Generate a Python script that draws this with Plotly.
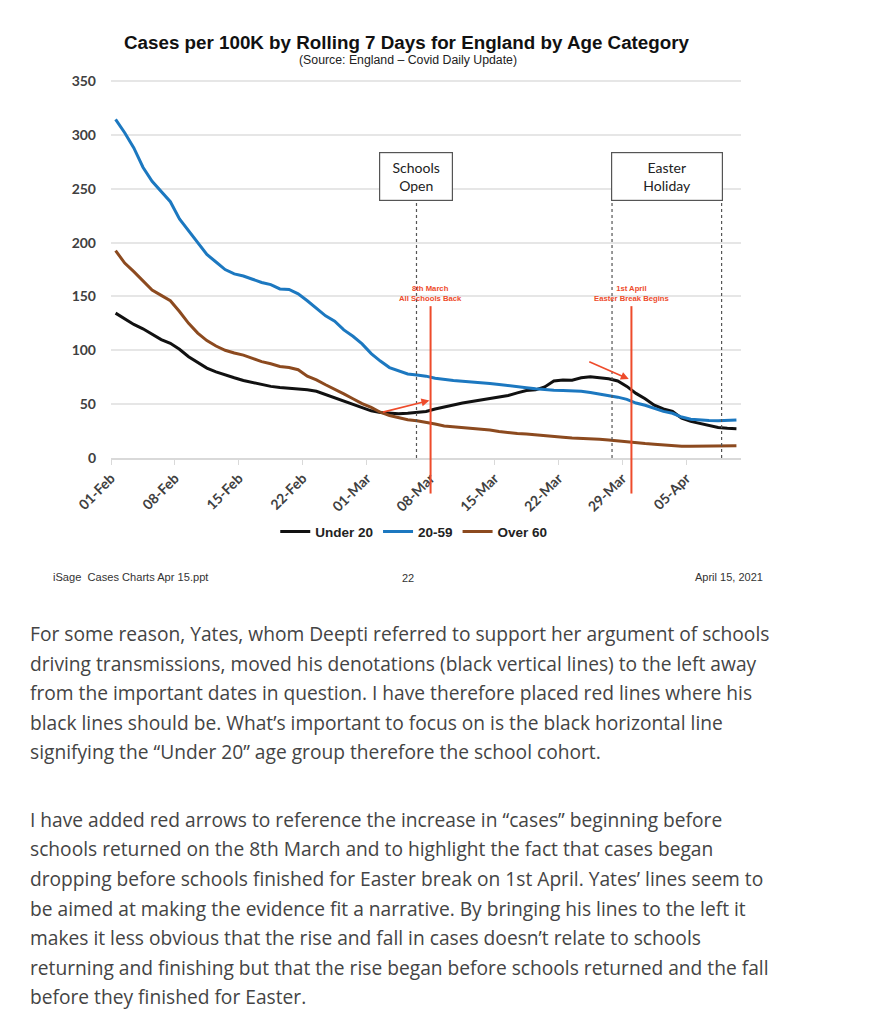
import pandas as pd
import plotly.graph_objects as go

# ---------------- data ----------------
dates = pd.date_range("2021-02-01 12:00", periods=69, freq="D")

under_20 = [134.5, 129, 124, 120, 115, 110, 106.5, 101, 94, 89,
            83.5, 80, 77, 74.5, 72, 70, 68, 66.5, 65.5, 65,
            64.5, 63.3, 62, 59, 56, 53, 50, 47, 43.8, 42.3,
            41.5, 41.1, 41.5, 42.3, 43.2, 45.5, 47.5, 49.7, 51, 52.5,
            53.8, 55, 56.6, 58, 60.5, 62.7, 63.3, 66, 71.5, 72.5,
            72.3, 74.5, 75.5, 74.5, 73.5, 71.5, 66.5, 60, 55, 49,
            45.5, 43.2, 37, 34, 32, 30, 28.3, 27.6, 27.2]

age_20_59 = [314.5, 302, 288, 270, 257, 247, 238, 222, 211, 199,
             189, 182, 175, 171, 169, 166, 163, 161, 157, 156.5,
             152.5, 146, 139, 132, 127, 119, 113, 106, 97, 90,
             84, 81, 78, 77, 76, 74, 72.8, 72, 71.3, 70.8,
             70, 69.2, 68.3, 67.5, 66.5, 65.3, 64.3, 63.5, 63, 62.7,
             62.5, 62, 60.8, 59.5, 58.3, 56.5, 54.5, 51, 49, 46,
             43.3, 41.5, 38, 36, 35.2, 34.8, 34.6, 35, 35.3]

over_60 = [192.6, 181, 173, 164, 156, 151, 146, 136, 125, 116,
           109, 104, 100, 97.5, 95.5, 92.5, 89.5, 87.5, 85, 84,
           82, 76, 72.5, 68, 64, 59.5, 55, 50.5, 47, 42.5,
           39.5, 37.5, 35.5, 34.5, 33.3, 31.5, 29.8, 29, 28.3, 27.7,
           27, 26, 24.7, 23.6, 22.7, 22.2, 21.3, 21, 20.2, 19.2,
           18.5, 18.3, 18, 17.5, 16.7, 15.7, 14.8, 14, 13.4, 12.8,
           12, 11.5, 11, 10.8, 10.8, 10.8, 10.9, 11, 11.4]

series_names = ["Under 20", "20-59", "Over 60"]

tick_dates = pd.date_range("2021-02-01", periods=10, freq="7D")
tick_labels = ["01-Feb", "08-Feb", "15-Feb", "22-Feb", "01-Mar",
               "08-Mar", "15-Mar", "22-Mar", "29-Mar", "05-Apr"]

# event markers (dates)
schools_open_line = "2021-03-06 11:00"
easter_lines = ["2021-03-27 21:00", "2021-04-08 21:00"]
red_lines = ["2021-03-08 00:00", "2021-03-30 00:00"]
red_labels = ["8th March<br>All Schools Back", "1st April<br>Easter Break Begins"]
arrow_heads = [("2021-03-07 21:00", 53.4), ("2021-03-29 17:00", 73.3)]

body_para1 = [
    "For some reason, Yates, whom Deepti referred to support her argument of schools",
    "driving transmissions, moved his denotations (black vertical lines) to the left away",
    "from the important dates in question. I have therefore placed red lines where his",
    "black lines should be. What\u2019s important to focus on is the black horizontal line",
    "signifying the \u201cUnder 20\u201d age group therefore the school cohort.",
]
body_para2 = [
    "I have added red arrows to reference the increase in \u201ccases\u201d beginning before",
    "schools returned on the 8th March and to highlight the fact that cases began",
    "dropping before schools finished for Easter break on 1st April. Yates\u2019 lines seem to",
    "be aimed at making the evidence fit a narrative. By bringing his lines to the left it",
    "makes it less obvious that the rise and fall in cases doesn\u2019t relate to schools",
    "returning and finishing but that the rise began before schools returned and the fall",
    "before they finished for Easter.",
]

# ---------------- layout helpers ----------------
OFF = 8                      # page body margin
W, H = 872, 1008
L, R, T, B = 103, 138.5, 72, 557.7
PW, PH = W - L - R, H - T - B
YMAX = 351


def px(x):
    """page x pixel -> paper fraction"""
    return (x - OFF - L) / PW


def py(y):
    """page y pixel -> paper fraction"""
    return (H - B - (y - OFF)) / PH


RED = "#EE4B2B"
ARIAL = "Liberation Sans, Arial, sans-serif"
CAL = "Lato, Liberation Sans, sans-serif"

fig = go.Figure()
colors = ["#111111", "#1c78c0", "#8c4a1f"]
for name, vals, col in zip(series_names, [under_20, age_20_59, over_60], colors):
    fig.add_trace(go.Scatter(x=dates, y=vals, mode="lines", name=name,
                             line=dict(color=col, width=3)))

shapes = []
# grey dotted lines
for d in [schools_open_line] + easter_lines:
    shapes.append(dict(type="line", xref="x", yref="y", x0=d, x1=d, y0=0, y1=238.5,
                       line=dict(color="#555555", width=1.2, dash="dot")))
# red vertical lines (extend below axis)
for d in red_lines:
    shapes.append(dict(type="line", xref="x", yref="paper", x0=d, x1=d,
                       y0=-33 / YMAX, y1=141 / YMAX,
                       line=dict(color=RED, width=2)))

annotations = []
# title + subtitle
annotations.append(dict(xref="paper", yref="paper", x=px(407.5), y=py(42.5),
                        text="<b>Cases per 100K by Rolling 7 Days for England by Age Category</b>",
                        showarrow=False, font=dict(family=ARIAL, size=18.8, color="#111111"),
                        xanchor="center", yanchor="middle"))
annotations.append(dict(xref="paper", yref="paper", x=px(408), y=py(60),
                        text="(Source: England \u2013 Covid Daily Update)",
                        showarrow=False, font=dict(family=ARIAL, size=12.3, color="#222222"),
                        xanchor="center", yanchor="middle"))
# boxes
t_open = pd.Timestamp(schools_open_line)
annotations.append(dict(xref="x", yref="y", x=t_open, y=284.5, yanchor="top",
                        text="Schools<br>Open", showarrow=False,
                        font=dict(family=CAL, size=14, color="#222222"),
                        width=72, height=47, bordercolor="#555555", borderwidth=1.2,
                        borderpad=0, bgcolor="white", align="center"))
e0, e1 = pd.Timestamp(easter_lines[0]), pd.Timestamp(easter_lines[1])
annotations.append(dict(xref="x", yref="y", x=e0 + (e1 - e0) / 2, y=284.5, yanchor="top",
                        text="Easter<br>Holiday", showarrow=False,
                        font=dict(family=CAL, size=14, color="#222222"),
                        width=110, height=47, bordercolor="#555555", borderwidth=1.2,
                        borderpad=0, bgcolor="white", align="center"))
# red labels
for d, txt in zip(red_lines, red_labels):
    annotations.append(dict(xref="x", yref="y", x=d, y=153, text="<b>" + txt + "</b>",
                            showarrow=False, font=dict(family=ARIAL, size=7.7, color=RED),
                            xanchor="center", yanchor="middle"))
# red arrows
for (d, v), (axp, ayp) in zip(arrow_heads, [(-48, 12), (-41, -18)]):
    annotations.append(dict(xref="x", yref="y", x=d, y=v, ax=axp, ay=ayp, text="",
                            showarrow=True, arrowhead=2, arrowsize=1, arrowwidth=1.6,
                            arrowcolor=RED, standoff=0))
# footer
annotations.append(dict(xref="paper", yref="paper", x=px(51), y=py(577), xanchor="left",
                        yanchor="middle", text="iSage  Cases Charts Apr 15.ppt", showarrow=False,
                        font=dict(family=ARIAL, size=11.1, color="#333333")))
annotations.append(dict(xref="paper", yref="paper", x=px(408), y=py(578), xanchor="center",
                        yanchor="middle", text="22", showarrow=False,
                        font=dict(family=ARIAL, size=11, color="#333333")))
annotations.append(dict(xref="paper", yref="paper", x=px(766), y=py(577), xanchor="right",
                        yanchor="middle", text="April 15, 2021", showarrow=False,
                        font=dict(family=ARIAL, size=11, color="#333333")))
# body text
BODY = "Open Sans, sans-serif"
for i, line in enumerate(body_para1):
    annotations.append(dict(xref="paper", yref="paper", x=px(28), y=py(634 + 29.6 * i),
                            xanchor="left", yanchor="middle", text=line, showarrow=False,
                            font=dict(family=BODY, size=19.2, color="#444444")))
for i, line in enumerate(body_para2):
    annotations.append(dict(xref="paper", yref="paper", x=px(28), y=py(820 + 29.6 * i),
                            xanchor="left", yanchor="middle", text=line, showarrow=False,
                            font=dict(family=BODY, size=19.2, color="#444444")))

fig.update_layout(
    width=W, height=H,
    margin=dict(l=L, r=R, t=T, b=B, autoexpand=False),
    paper_bgcolor="white", plot_bgcolor="white",
    shapes=shapes, annotations=annotations,
    showlegend=True,
    legend=dict(orientation="h", x=px(414), xanchor="center", y=py(532), yanchor="middle",
                font=dict(family=ARIAL, size=13.5, color="#222222", weight="bold"),
                bgcolor="rgba(0,0,0,0)", itemwidth=30),
    xaxis=dict(type="date", range=["2021-02-01", "2021-04-11"],
               tickmode="array", tickvals=list(tick_dates), ticktext=tick_labels,
               tickangle=-45, ticks="outside", ticklen=5, tickcolor="#d9d9d9",
               showline=True, linecolor="#d9d9d9", linewidth=1.5,
               showgrid=False, zeroline=False,
               tickfont=dict(family=CAL, size=14, color="#404040", weight="bold")),
    yaxis=dict(range=[0, YMAX], tickvals=[0, 50, 100, 150, 200, 250, 300, 350],
               showgrid=True, gridcolor="#e6e6e6", gridwidth=1.5,
               zeroline=False, showline=False, ticks="", ticklabelstandoff=14,
               tickfont=dict(family=CAL, size=14, color="#404040", weight="bold")),
)

fig.write_html("out.html")
